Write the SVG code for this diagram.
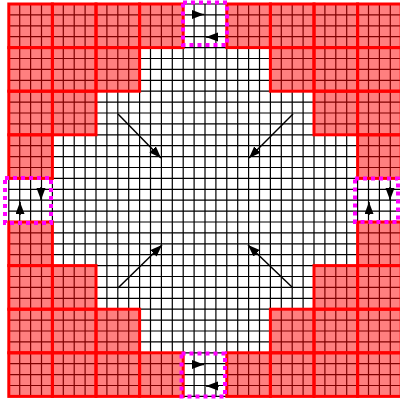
<svg xmlns="http://www.w3.org/2000/svg" width="400" height="401" viewBox="0 0 400 401">
<style>
.grid{stroke:#000;stroke-width:1.2;fill:none}
.cell{fill:#ff0000;fill-opacity:0.5;stroke:#ff0000;stroke-width:3}
.box{fill:none;stroke:#ff00ff;stroke-width:4;stroke-dasharray:4 4}
.arr{stroke:#000;stroke-width:1.5;fill:none;marker-end:url(#ah)}
</style>
<defs>
<marker id="ah" markerUnits="userSpaceOnUse" markerWidth="13" markerHeight="10" refX="12" refY="4.5" orient="auto">
<path d="M0,0 L12,4.5 L0,9 z" fill="#000"/>
</marker>
</defs>
<rect width="400" height="401" fill="#fff"/>
<g id="grid">
<path class="grid" d="M8.8 4V396.4M19.7 4V396.4M30.6 4V396.4M41.5 4V396.4M52.4 4V396.4M63.3 4V396.4M74.2 4V396.4M85.1 4V396.4M96 4V396.4M106.9 4V396.4M117.8 4V396.4M128.7 4V396.4M139.6 4V396.4M150.5 4V396.4M161.4 4V396.4M172.3 4V396.4M183.2 4V396.4M194.1 4V396.4M205 4V396.4M215.9 4V396.4M226.8 4V396.4M237.7 4V396.4M248.6 4V396.4M259.5 4V396.4M270.4 4V396.4M281.3 4V396.4M292.2 4V396.4M303.1 4V396.4M314 4V396.4M324.9 4V396.4M335.8 4V396.4M346.7 4V396.4M357.6 4V396.4M368.5 4V396.4M379.4 4V396.4M390.3 4V396.4M401.2 4V396.4"/>
<path class="grid" d="M8.8 4H401.2M8.8 14.9H401.2M8.8 25.8H401.2M8.8 36.7H401.2M8.8 47.6H401.2M8.8 58.5H401.2M8.8 69.4H401.2M8.8 80.3H401.2M8.8 91.2H401.2M8.8 102.1H401.2M8.8 113H401.2M8.8 123.9H401.2M8.8 134.8H401.2M8.8 145.7H401.2M8.8 156.6H401.2M8.8 167.5H401.2M8.8 178.4H401.2M8.8 189.3H401.2M8.8 200.2H401.2M8.8 211.1H401.2M8.8 222H401.2M8.8 232.9H401.2M8.8 243.8H401.2M8.8 254.7H401.2M8.8 265.6H401.2M8.8 276.5H401.2M8.8 287.4H401.2M8.8 298.3H401.2M8.8 309.2H401.2M8.8 320.1H401.2M8.8 331H401.2M8.8 341.9H401.2M8.8 352.8H401.2M8.8 363.7H401.2M8.8 374.6H401.2M8.8 385.5H401.2M8.8 396.4H401.2"/>
</g>
<g id="cells">
<rect class="cell" x="8.8" y="4" width="43.6" height="43.6"/>
<rect class="cell" x="52.4" y="4" width="43.6" height="43.6"/>
<rect class="cell" x="96" y="4" width="43.6" height="43.6"/>
<rect class="cell" x="139.6" y="4" width="43.6" height="43.6"/>
<rect class="cell" x="226.8" y="4" width="43.6" height="43.6"/>
<rect class="cell" x="270.4" y="4" width="43.6" height="43.6"/>
<rect class="cell" x="314" y="4" width="43.6" height="43.6"/>
<rect class="cell" x="357.6" y="4" width="43.6" height="43.6"/>
<rect class="cell" x="8.8" y="47.6" width="43.6" height="43.6"/>
<rect class="cell" x="52.4" y="47.6" width="43.6" height="43.6"/>
<rect class="cell" x="96" y="47.6" width="43.6" height="43.6"/>
<rect class="cell" x="270.4" y="47.6" width="43.6" height="43.6"/>
<rect class="cell" x="314" y="47.6" width="43.6" height="43.6"/>
<rect class="cell" x="357.6" y="47.6" width="43.6" height="43.6"/>
<rect class="cell" x="8.8" y="91.2" width="43.6" height="43.6"/>
<rect class="cell" x="52.4" y="91.2" width="43.6" height="43.6"/>
<rect class="cell" x="314" y="91.2" width="43.6" height="43.6"/>
<rect class="cell" x="357.6" y="91.2" width="43.6" height="43.6"/>
<rect class="cell" x="8.8" y="134.8" width="43.6" height="43.6"/>
<rect class="cell" x="357.6" y="134.8" width="43.6" height="43.6"/>
<rect class="cell" x="8.8" y="222" width="43.6" height="43.6"/>
<rect class="cell" x="357.6" y="222" width="43.6" height="43.6"/>
<rect class="cell" x="8.8" y="265.6" width="43.6" height="43.6"/>
<rect class="cell" x="52.4" y="265.6" width="43.6" height="43.6"/>
<rect class="cell" x="314" y="265.6" width="43.6" height="43.6"/>
<rect class="cell" x="357.6" y="265.6" width="43.6" height="43.6"/>
<rect class="cell" x="8.8" y="309.2" width="43.6" height="43.6"/>
<rect class="cell" x="52.4" y="309.2" width="43.6" height="43.6"/>
<rect class="cell" x="96" y="309.2" width="43.6" height="43.6"/>
<rect class="cell" x="270.4" y="309.2" width="43.6" height="43.6"/>
<rect class="cell" x="314" y="309.2" width="43.6" height="43.6"/>
<rect class="cell" x="357.6" y="309.2" width="43.6" height="43.6"/>
<rect class="cell" x="8.8" y="352.8" width="43.6" height="43.6"/>
<rect class="cell" x="52.4" y="352.8" width="43.6" height="43.6"/>
<rect class="cell" x="96" y="352.8" width="43.6" height="43.6"/>
<rect class="cell" x="139.6" y="352.8" width="43.6" height="43.6"/>
<rect class="cell" x="226.8" y="352.8" width="43.6" height="43.6"/>
<rect class="cell" x="270.4" y="352.8" width="43.6" height="43.6"/>
<rect class="cell" x="314" y="352.8" width="43.6" height="43.6"/>
<rect class="cell" x="357.6" y="352.8" width="43.6" height="43.6"/>
</g>
<g id="box-top"><rect class="box" x="183" y="2.5" width="44" height="42.5"/></g>
<g id="box-left"><rect class="box" x="5" y="178" width="46" height="45"/></g>
<g id="box-right"><rect class="box" x="355" y="178.5" width="43" height="43.5"/></g>
<g id="box-bottom"><rect class="box" x="181.5" y="353.5" width="43.5" height="43"/></g>
<g id="connectors">
<line class="arr" x1="118" y1="114" x2="161" y2="158"/>
<line class="arr" x1="293" y1="114" x2="249" y2="158"/>
<line class="arr" x1="118" y1="288" x2="162" y2="245"/>
<line class="arr" x1="293" y1="288" x2="248" y2="245"/>
<line class="arr" x1="192" y1="14.5" x2="204" y2="14.5"/>
<line class="arr" x1="218" y1="37" x2="206" y2="37"/>
<line class="arr" x1="192" y1="364.5" x2="204" y2="364.5"/>
<line class="arr" x1="219" y1="386" x2="206" y2="386"/>
<line class="arr" x1="41" y1="187" x2="41" y2="200"/>
<line class="arr" x1="20" y1="215" x2="20" y2="202"/>
<line class="arr" x1="390" y1="187" x2="390" y2="200"/>
<line class="arr" x1="369" y1="215" x2="369" y2="202"/>
</g>
</svg>
